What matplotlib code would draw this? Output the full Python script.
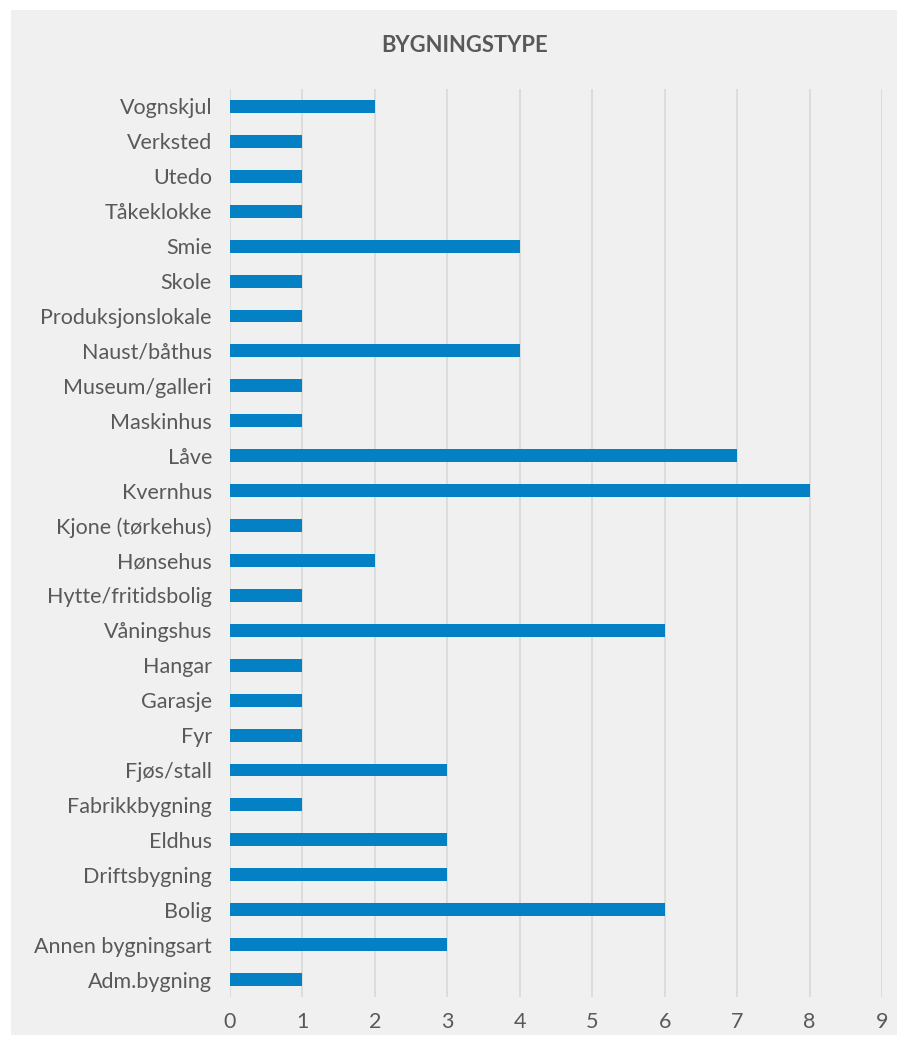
import matplotlib
matplotlib.use('Agg')
import matplotlib.pyplot as plt
from matplotlib.patches import Rectangle

categories = ['Adm.bygning', 'Annen bygningsart', 'Bolig', 'Driftsbygning', 'Eldhus',
              'Fabrikkbygning', 'Fjøs/stall', 'Fyr', 'Garasje', 'Hangar', 'Våningshus',
              'Hytte/fritidsbolig', 'Hønsehus', 'Kjone (tørkehus)', 'Kvernhus', 'Låve',
              'Maskinhus', 'Museum/galleri', 'Naust/båthus', 'Produksjonslokale', 'Skole',
              'Smie', 'Tåkeklokke', 'Utedo', 'Verksted', 'Vognskjul']
values = [1, 3, 6, 3, 3, 1, 3, 1, 1, 1, 6, 1, 2, 1, 8, 7, 1, 1, 4, 1, 1, 4, 1, 1, 1, 2]
xticks = list(range(0, 10))

BLUE = '#0481c4'
GREY = '#595959'
BG = '#f0f0f0'

plt.rcParams['font.family'] = ['Lato', 'DejaVu Sans']

W, H = 910, 1045
fig = plt.figure(figsize=(W / 100, H / 100), dpi=100)
fig.patch.set_facecolor('white')
fig.patches.append(Rectangle((11 / W, 1 - 1035 / H), (897 - 11) / W, (1035 - 10) / H,
                             transform=fig.transFigure, facecolor=BG, edgecolor='none',
                             zorder=-10))

ax = fig.add_axes([230 / W, 1 - 997 / H, (882 - 230) / W, (997 - 89) / H])
ax.set_facecolor('none')
ax.set_zorder(5)

ax.barh(range(len(categories)), values, height=0.37, color=BLUE, zorder=3)

ax.set_xlim(0, 9)
ax.set_ylim(-0.5, len(categories) - 0.5)
ax.set_xticks(xticks)
ax.set_yticks(range(len(categories)))
ax.set_yticklabels(categories)
ax.grid(axis='x', color='#d9d9d9', linewidth=1.2, zorder=0)

for spine in ax.spines.values():
    spine.set_visible(False)
ax.tick_params(axis='both', length=0, colors=GREY, labelsize=15.5)
ax.tick_params(axis='y', pad=13)
ax.tick_params(axis='x', pad=11)

fig.text(465 / W, 1 - 45 / H, 'BYGNINGSTYPE', ha='center', va='center',
         fontsize=15.8, fontweight='bold', color=GREY)

fig.savefig('out.png', dpi=100, facecolor=fig.get_facecolor())
